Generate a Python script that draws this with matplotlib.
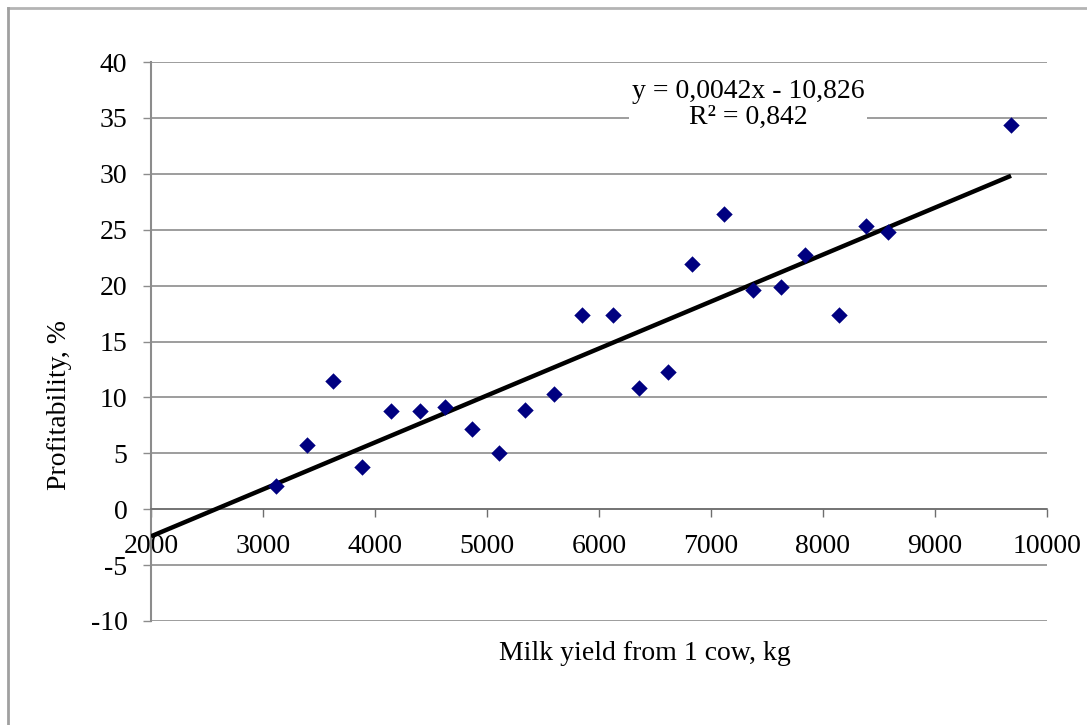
import numpy as np
import matplotlib
matplotlib.use('Agg')
import matplotlib.pyplot as plt
from matplotlib.lines import Line2D

plt.rcParams['font.family'] = ['Liberation Serif', 'DejaVu Serif']
plt.rcParams['axes.unicode_minus'] = False

# milk yield per cow (kg) and profitability (%)
milk_yield = [3116, 3393, 3625, 3884, 4143, 4402, 4625, 4866, 5107, 5339, 5598, 5848,
              6125, 6357, 6616, 6830, 7116, 7375, 7625, 7839, 8143, 8384, 8580, 9679]
profit = [2.1, 5.7, 11.5, 3.8, 8.8, 8.8, 9.1, 7.2, 5.0, 8.9, 10.3, 17.4,
          17.4, 10.8, 12.3, 21.9, 26.4, 19.6, 19.9, 22.7, 17.4, 25.3, 24.8, 34.4]

# trendline as printed on the chart
slope = 0.0042
intercept = -10.826
trend_start = 2000
eq_text = 'y = 0,0042x - 10,826\nR² = 0,842'

x_ticks = [2000, 3000, 4000, 5000, 6000, 7000, 8000, 9000, 10000]
y_ticks = [-10, -5, 0, 5, 10, 15, 20, 25, 30, 35, 40]

W, H = 1087, 725
fig = plt.figure(figsize=(W / 100, H / 100), dpi=100)
ax = fig.add_axes([151 / W, 1 - 621 / H, (1047 - 151) / W, (621 - 62) / H])

ax.set_xlim(2000, 10000)
ax.set_ylim(-10, 40)
ax.set_xticks(x_ticks)
ax.set_yticks(y_ticks)

ax.grid(axis='y', color='#8c8c8c', linewidth=1.2)
ax.set_axisbelow(True)

for s in ['top', 'right']:
    ax.spines[s].set_visible(False)
ax.spines['left'].set_color('#8c8c8c')
ax.spines['left'].set_linewidth(1.5)
ax.spines['bottom'].set_position(('data', 0))
ax.spines['bottom'].set_color('#6e6e6e')
ax.spines['bottom'].set_linewidth(1.2)

ax.tick_params(axis='y', direction='out', length=6, width=1, color='#8c8c8c',
               labelsize=20, pad=11)
ax.tick_params(axis='x', direction='out', length=6, width=1, color='#6e6e6e',
               labelsize=20, pad=12)

# trendline
xs = np.array([trend_start, max(milk_yield)])
ax.plot(xs, slope * xs + intercept, color='black', linewidth=3.2, zorder=3,
        solid_capstyle='butt')

ax.scatter(milk_yield, profit, marker='D', s=70, color='#000080', zorder=4,
           linewidths=0)

ax.text(7330, 36.2, eq_text, ha='center', va='center', fontsize=20,
        linespacing=1.05, zorder=5,
        bbox=dict(facecolor='white', edgecolor='none', pad=2))

fig.text(60 / W, 1 - 405 / H, 'Profitability, %', rotation=90, ha='center',
         va='center', fontsize=20)
fig.text(645 / W, 1 - 653 / H, 'Milk yield from 1 cow, kg', ha='center',
         va='center', fontsize=20)

# outer frame (top and left edges)
fig.add_artist(Line2D([8 / W, 1], [1 - 8 / H, 1 - 8 / H], transform=fig.transFigure,
                      color='#b4b4b4', linewidth=2))
fig.add_artist(Line2D([8 / W, 8 / W], [0, 1 - 8 / H], transform=fig.transFigure,
                      color='#a0a0a0', linewidth=2))

fig.savefig('out.png', dpi=100)
